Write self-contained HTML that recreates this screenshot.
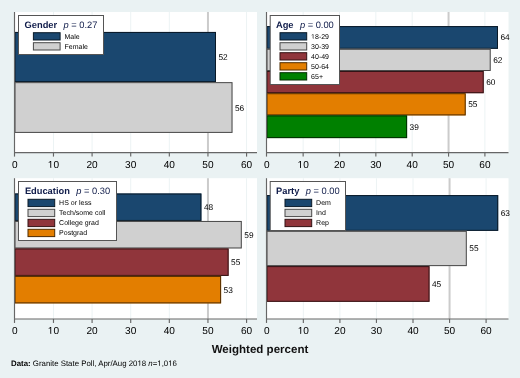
<!DOCTYPE html>
<html><head><meta charset="utf-8"><style>
html,body{margin:0;padding:0;background:#eaf2f3;overflow:hidden;}
svg{display:block;font-family:"Liberation Sans", sans-serif;will-change:transform;text-rendering:geometricPrecision;}
</style></head><body>
<svg width="520" height="378" viewBox="0 0 520 378">
<defs><clipPath id="f1"><path clip-rule="evenodd" d="M-10 -10H530V390H-10ZM48 167H50.393V168H48ZM51.285 167H53V168H51.285Z"/></clipPath><clipPath id="f2"><path clip-rule="evenodd" d="M-10 -10H530V390H-10ZM298 167H300.073V168H298ZM300.965 167H303V168H300.965Z"/></clipPath><clipPath id="f3"><path clip-rule="evenodd" d="M-10 -10H530V390H-10ZM311 38H312.861V39H311ZM313.479 38H315V39H313.479Z"/></clipPath><clipPath id="f4"><path clip-rule="evenodd" d="M-10 -10H530V390H-10ZM48 333H50.393V334H48ZM51.285 333H53V334H51.285Z"/></clipPath><clipPath id="f5"><path clip-rule="evenodd" d="M-10 -10H530V390H-10ZM298 333H300.273V334H298ZM301.165 333H303V334H301.165Z"/></clipPath><clipPath id="f6"><path clip-rule="evenodd" d="M-10 -10H530V390H-10ZM138 365H139.412V366H138ZM140.105 365H142V366H140.105ZM157 365H159.287V366H157ZM159.980 365H162V366H159.980ZM168 365H170.193V366H168ZM170.886 365H173V366H170.886Z"/></clipPath></defs>
<rect x="0" y="0" width="520" height="378" fill="#eaf2f3"/>
<rect x="14" y="12" width="243" height="140.6" fill="#fff"/>
<line x1="53.47" y1="12" x2="53.47" y2="152.6" stroke="#ecf3f4" stroke-width="1"/>
<line x1="92.09" y1="12" x2="92.09" y2="152.6" stroke="#ecf3f4" stroke-width="1"/>
<line x1="130.71" y1="12" x2="130.71" y2="152.6" stroke="#ecf3f4" stroke-width="1"/>
<line x1="169.33" y1="12" x2="169.33" y2="152.6" stroke="#ecf3f4" stroke-width="1"/>
<line x1="246.57" y1="12" x2="246.57" y2="152.6" stroke="#ecf3f4" stroke-width="1"/>
<line x1="207.95" y1="12" x2="207.95" y2="152.6" stroke="#cbcbcb" stroke-width="2"/>
<rect x="14.5" y="31.95" width="201.50" height="50.20" fill="#1a476f"/>
<rect x="15.0" y="32.45" width="200.50" height="49.20" fill="none" stroke="#091927" stroke-width="1"/>
<text x="218.50" y="60.05" font-size="8.3" fill="#000">52</text>
<rect x="14.5" y="82.15" width="218.00" height="50.75" fill="#d0d0d0"/>
<rect x="15.0" y="82.65" width="217.00" height="49.75" fill="none" stroke="#494949" stroke-width="1"/>
<text x="235.00" y="110.53" font-size="8.3" fill="#000">56</text>
<line x1="14.5" y1="12" x2="14.5" y2="152.6" stroke="#666" stroke-width="1.15"/>
<line x1="14" y1="152.6" x2="257" y2="152.6" stroke="#666" stroke-width="1.15"/>
<line x1="14.50" y1="152.6" x2="14.50" y2="156.6" stroke="#666" stroke-width="1.15"/>
<text x="14.85" y="167.90" font-size="10.1" fill="#000" text-anchor="middle">0</text>
<line x1="53.47" y1="152.6" x2="53.47" y2="156.6" stroke="#666" stroke-width="1.15"/>
<text clip-path="url(#f1)" x="53.47" y="167.90" font-size="10.1" fill="#000" text-anchor="middle">10</text>
<line x1="92.09" y1="152.6" x2="92.09" y2="156.6" stroke="#666" stroke-width="1.15"/>
<text x="92.09" y="167.90" font-size="10.1" fill="#000" text-anchor="middle">20</text>
<line x1="130.71" y1="152.6" x2="130.71" y2="156.6" stroke="#666" stroke-width="1.15"/>
<text x="130.71" y="167.90" font-size="10.1" fill="#000" text-anchor="middle">30</text>
<line x1="169.33" y1="152.6" x2="169.33" y2="156.6" stroke="#666" stroke-width="1.15"/>
<text x="169.33" y="167.90" font-size="10.1" fill="#000" text-anchor="middle">40</text>
<line x1="207.95" y1="152.6" x2="207.95" y2="156.6" stroke="#666" stroke-width="1.15"/>
<text x="207.95" y="167.90" font-size="10.1" fill="#000" text-anchor="middle">50</text>
<line x1="246.57" y1="152.6" x2="246.57" y2="156.6" stroke="#666" stroke-width="1.15"/>
<text x="246.57" y="167.90" font-size="10.1" fill="#000" text-anchor="middle">60</text>
<rect x="18.5" y="15.5" width="85" height="39" fill="#fff" stroke="#555" stroke-width="1"/>
<text x="61.00" y="27.80" font-size="9.3" fill="#101c4a" text-anchor="middle"><tspan font-weight="bold">Gender</tspan><tspan dx="6.4"><tspan font-style="italic">p</tspan> = 0.27</tspan></text>
<rect x="33.40" y="32.70" width="26.7" height="7.3" fill="#1a476f" stroke="#091927" stroke-width="1"/>
<text x="64.50" y="38.70" font-size="7" fill="#000">Male</text>
<rect x="33.40" y="42.70" width="26.7" height="7.3" fill="#d0d0d0" stroke="#494949" stroke-width="1"/>
<text x="64.50" y="48.70" font-size="7" fill="#000">Female</text>
<rect x="266" y="12" width="242.5" height="140.6" fill="#fff"/>
<line x1="303.15" y1="12" x2="303.15" y2="152.6" stroke="#ecf3f4" stroke-width="1"/>
<line x1="339.50" y1="12" x2="339.50" y2="152.6" stroke="#ecf3f4" stroke-width="1"/>
<line x1="375.85" y1="12" x2="375.85" y2="152.6" stroke="#ecf3f4" stroke-width="1"/>
<line x1="412.20" y1="12" x2="412.20" y2="152.6" stroke="#ecf3f4" stroke-width="1"/>
<line x1="484.90" y1="12" x2="484.90" y2="152.6" stroke="#ecf3f4" stroke-width="1"/>
<line x1="448.55" y1="12" x2="448.55" y2="152.6" stroke="#cbcbcb" stroke-width="2"/>
<rect x="266.5" y="26.10" width="231.50" height="22.70" fill="#1a476f"/>
<rect x="267.0" y="26.60" width="230.50" height="21.70" fill="none" stroke="#091927" stroke-width="1"/>
<text x="500.50" y="40.45" font-size="8.3" fill="#000">64</text>
<rect x="266.5" y="48.80" width="224.20" height="22.20" fill="#d0d0d0"/>
<rect x="267.0" y="49.30" width="223.20" height="21.20" fill="none" stroke="#494949" stroke-width="1"/>
<text x="493.20" y="62.90" font-size="8.3" fill="#000">62</text>
<rect x="266.5" y="71.00" width="217.20" height="22.20" fill="#90353b"/>
<rect x="267.0" y="71.50" width="216.20" height="21.20" fill="none" stroke="#321315" stroke-width="1"/>
<text x="486.20" y="85.10" font-size="8.3" fill="#000">60</text>
<rect x="266.5" y="93.20" width="199.20" height="22.20" fill="#e37e00"/>
<rect x="267.0" y="93.70" width="198.20" height="21.20" fill="none" stroke="#4f2c00" stroke-width="1"/>
<text x="468.20" y="107.30" font-size="8.3" fill="#000">55</text>
<rect x="266.5" y="115.40" width="140.60" height="22.70" fill="#008000"/>
<rect x="267.0" y="115.90" width="139.60" height="21.70" fill="none" stroke="#002d00" stroke-width="1"/>
<text x="409.60" y="129.75" font-size="8.3" fill="#000">39</text>
<line x1="266.5" y1="12" x2="266.5" y2="152.6" stroke="#666" stroke-width="1.15"/>
<line x1="266" y1="152.6" x2="508.5" y2="152.6" stroke="#666" stroke-width="1.15"/>
<line x1="266.50" y1="152.6" x2="266.50" y2="156.6" stroke="#666" stroke-width="1.15"/>
<text x="266.80" y="167.90" font-size="10.1" fill="#000" text-anchor="middle">0</text>
<line x1="303.15" y1="152.6" x2="303.15" y2="156.6" stroke="#666" stroke-width="1.15"/>
<text clip-path="url(#f2)" x="303.15" y="167.90" font-size="10.1" fill="#000" text-anchor="middle">10</text>
<line x1="339.50" y1="152.6" x2="339.50" y2="156.6" stroke="#666" stroke-width="1.15"/>
<text x="339.50" y="167.90" font-size="10.1" fill="#000" text-anchor="middle">20</text>
<line x1="375.85" y1="152.6" x2="375.85" y2="156.6" stroke="#666" stroke-width="1.15"/>
<text x="375.85" y="167.90" font-size="10.1" fill="#000" text-anchor="middle">30</text>
<line x1="412.20" y1="152.6" x2="412.20" y2="156.6" stroke="#666" stroke-width="1.15"/>
<text x="412.20" y="167.90" font-size="10.1" fill="#000" text-anchor="middle">40</text>
<line x1="448.55" y1="152.6" x2="448.55" y2="156.6" stroke="#666" stroke-width="1.15"/>
<text x="448.55" y="167.90" font-size="10.1" fill="#000" text-anchor="middle">50</text>
<line x1="484.90" y1="152.6" x2="484.90" y2="156.6" stroke="#666" stroke-width="1.15"/>
<text x="484.90" y="167.90" font-size="10.1" fill="#000" text-anchor="middle">60</text>
<rect x="270.2" y="15.5" width="69.3" height="69" fill="#fff" stroke="#555" stroke-width="1"/>
<text x="304.85" y="27.80" font-size="9.3" fill="#101c4a" text-anchor="middle"><tspan font-weight="bold">Age</tspan><tspan dx="6.4"><tspan font-style="italic">p</tspan> = 0.00</tspan></text>
<rect x="280.00" y="32.70" width="26.7" height="7.3" fill="#1a476f" stroke="#091927" stroke-width="1"/>
<text clip-path="url(#f3)" x="311.10" y="38.70" font-size="7" fill="#000">18-29</text>
<rect x="280.00" y="42.70" width="26.7" height="7.3" fill="#d0d0d0" stroke="#494949" stroke-width="1"/>
<text x="311.10" y="48.70" font-size="7" fill="#000">30-39</text>
<rect x="280.00" y="52.70" width="26.7" height="7.3" fill="#90353b" stroke="#321315" stroke-width="1"/>
<text x="311.10" y="58.70" font-size="7" fill="#000">40-49</text>
<rect x="280.00" y="62.70" width="26.7" height="7.3" fill="#e37e00" stroke="#4f2c00" stroke-width="1"/>
<text x="311.10" y="68.70" font-size="7" fill="#000">50-64</text>
<rect x="280.00" y="72.70" width="26.7" height="7.3" fill="#008000" stroke="#002d00" stroke-width="1"/>
<text x="311.10" y="78.70" font-size="7" fill="#000">65+</text>
<rect x="14" y="178.2" width="243" height="140.75" fill="#fff"/>
<line x1="53.47" y1="178.2" x2="53.47" y2="318.95" stroke="#ecf3f4" stroke-width="1"/>
<line x1="92.09" y1="178.2" x2="92.09" y2="318.95" stroke="#ecf3f4" stroke-width="1"/>
<line x1="130.71" y1="178.2" x2="130.71" y2="318.95" stroke="#ecf3f4" stroke-width="1"/>
<line x1="169.33" y1="178.2" x2="169.33" y2="318.95" stroke="#ecf3f4" stroke-width="1"/>
<line x1="246.57" y1="178.2" x2="246.57" y2="318.95" stroke="#ecf3f4" stroke-width="1"/>
<line x1="207.95" y1="178.2" x2="207.95" y2="318.95" stroke="#cbcbcb" stroke-width="2"/>
<rect x="14.5" y="193.50" width="186.90" height="27.45" fill="#1a476f"/>
<rect x="15.0" y="194.00" width="185.90" height="26.45" fill="none" stroke="#091927" stroke-width="1"/>
<text x="203.90" y="210.22" font-size="8.3" fill="#000">48</text>
<rect x="14.5" y="220.95" width="227.30" height="27.50" fill="#d0d0d0"/>
<rect x="15.0" y="221.45" width="226.30" height="26.50" fill="none" stroke="#494949" stroke-width="1"/>
<text x="244.30" y="237.70" font-size="8.3" fill="#000">59</text>
<rect x="14.5" y="248.45" width="214.10" height="27.45" fill="#90353b"/>
<rect x="15.0" y="248.95" width="213.10" height="26.45" fill="none" stroke="#321315" stroke-width="1"/>
<text x="231.10" y="265.17" font-size="8.3" fill="#000">55</text>
<rect x="14.5" y="275.90" width="206.60" height="27.50" fill="#e37e00"/>
<rect x="15.0" y="276.40" width="205.60" height="26.50" fill="none" stroke="#4f2c00" stroke-width="1"/>
<text x="223.60" y="292.65" font-size="8.3" fill="#000">53</text>
<line x1="14.5" y1="178.2" x2="14.5" y2="318.95" stroke="#666" stroke-width="1.15"/>
<line x1="14" y1="318.95" x2="257" y2="318.95" stroke="#666" stroke-width="1.15"/>
<line x1="14.50" y1="318.95" x2="14.50" y2="322.95" stroke="#666" stroke-width="1.15"/>
<text x="14.85" y="334.25" font-size="10.1" fill="#000" text-anchor="middle">0</text>
<line x1="53.47" y1="318.95" x2="53.47" y2="322.95" stroke="#666" stroke-width="1.15"/>
<text clip-path="url(#f4)" x="53.47" y="334.25" font-size="10.1" fill="#000" text-anchor="middle">10</text>
<line x1="92.09" y1="318.95" x2="92.09" y2="322.95" stroke="#666" stroke-width="1.15"/>
<text x="92.09" y="334.25" font-size="10.1" fill="#000" text-anchor="middle">20</text>
<line x1="130.71" y1="318.95" x2="130.71" y2="322.95" stroke="#666" stroke-width="1.15"/>
<text x="130.71" y="334.25" font-size="10.1" fill="#000" text-anchor="middle">30</text>
<line x1="169.33" y1="318.95" x2="169.33" y2="322.95" stroke="#666" stroke-width="1.15"/>
<text x="169.33" y="334.25" font-size="10.1" fill="#000" text-anchor="middle">40</text>
<line x1="207.95" y1="318.95" x2="207.95" y2="322.95" stroke="#666" stroke-width="1.15"/>
<text x="207.95" y="334.25" font-size="10.1" fill="#000" text-anchor="middle">50</text>
<line x1="246.57" y1="318.95" x2="246.57" y2="322.95" stroke="#666" stroke-width="1.15"/>
<text x="246.57" y="334.25" font-size="10.1" fill="#000" text-anchor="middle">60</text>
<rect x="18.5" y="181.5" width="98" height="59" fill="#fff" stroke="#555" stroke-width="1"/>
<text x="67.50" y="194.40" font-size="9.3" fill="#101c4a" text-anchor="middle"><tspan font-weight="bold">Education</tspan><tspan dx="6.4"><tspan font-style="italic">p</tspan> = 0.30</tspan></text>
<rect x="28.00" y="199.30" width="26.7" height="7.3" fill="#1a476f" stroke="#091927" stroke-width="1"/>
<text x="59.10" y="205.30" font-size="7" fill="#000">HS or less</text>
<rect x="28.00" y="209.30" width="26.7" height="7.3" fill="#d0d0d0" stroke="#494949" stroke-width="1"/>
<text x="59.10" y="215.30" font-size="7" fill="#000">Tech/some coll</text>
<rect x="28.00" y="219.30" width="26.7" height="7.3" fill="#90353b" stroke="#321315" stroke-width="1"/>
<text x="59.10" y="225.30" font-size="7" fill="#000">College grad</text>
<rect x="28.00" y="229.30" width="26.7" height="7.3" fill="#e37e00" stroke="#4f2c00" stroke-width="1"/>
<text x="59.10" y="235.30" font-size="7" fill="#000">Postgrad</text>
<rect x="266" y="178.2" width="242.5" height="140.75" fill="#fff"/>
<line x1="303.35" y1="178.2" x2="303.35" y2="318.95" stroke="#ecf3f4" stroke-width="1"/>
<line x1="339.90" y1="178.2" x2="339.90" y2="318.95" stroke="#ecf3f4" stroke-width="1"/>
<line x1="376.45" y1="178.2" x2="376.45" y2="318.95" stroke="#ecf3f4" stroke-width="1"/>
<line x1="413.00" y1="178.2" x2="413.00" y2="318.95" stroke="#ecf3f4" stroke-width="1"/>
<line x1="486.10" y1="178.2" x2="486.10" y2="318.95" stroke="#ecf3f4" stroke-width="1"/>
<line x1="449.55" y1="178.2" x2="449.55" y2="318.95" stroke="#cbcbcb" stroke-width="2"/>
<rect x="266.5" y="195.10" width="231.70" height="35.73" fill="#1a476f"/>
<rect x="267.0" y="195.60" width="230.70" height="34.73" fill="none" stroke="#091927" stroke-width="1"/>
<text x="500.70" y="215.97" font-size="8.3" fill="#000">63</text>
<rect x="266.5" y="230.83" width="200.30" height="35.27" fill="#d0d0d0"/>
<rect x="267.0" y="231.33" width="199.30" height="34.27" fill="none" stroke="#494949" stroke-width="1"/>
<text x="469.30" y="251.47" font-size="8.3" fill="#000">55</text>
<rect x="266.5" y="266.10" width="163.00" height="35.70" fill="#90353b"/>
<rect x="267.0" y="266.60" width="162.00" height="34.70" fill="none" stroke="#321315" stroke-width="1"/>
<text x="432.00" y="286.95" font-size="8.3" fill="#000">45</text>
<line x1="266.5" y1="178.2" x2="266.5" y2="318.95" stroke="#666" stroke-width="1.15"/>
<line x1="266" y1="318.95" x2="508.5" y2="318.95" stroke="#666" stroke-width="1.15"/>
<line x1="266.50" y1="318.95" x2="266.50" y2="322.95" stroke="#666" stroke-width="1.15"/>
<text x="266.80" y="334.25" font-size="10.1" fill="#000" text-anchor="middle">0</text>
<line x1="303.35" y1="318.95" x2="303.35" y2="322.95" stroke="#666" stroke-width="1.15"/>
<text clip-path="url(#f5)" x="303.35" y="334.25" font-size="10.1" fill="#000" text-anchor="middle">10</text>
<line x1="339.90" y1="318.95" x2="339.90" y2="322.95" stroke="#666" stroke-width="1.15"/>
<text x="339.90" y="334.25" font-size="10.1" fill="#000" text-anchor="middle">20</text>
<line x1="376.45" y1="318.95" x2="376.45" y2="322.95" stroke="#666" stroke-width="1.15"/>
<text x="376.45" y="334.25" font-size="10.1" fill="#000" text-anchor="middle">30</text>
<line x1="413.00" y1="318.95" x2="413.00" y2="322.95" stroke="#666" stroke-width="1.15"/>
<text x="413.00" y="334.25" font-size="10.1" fill="#000" text-anchor="middle">40</text>
<line x1="449.55" y1="318.95" x2="449.55" y2="322.95" stroke="#666" stroke-width="1.15"/>
<text x="449.55" y="334.25" font-size="10.1" fill="#000" text-anchor="middle">50</text>
<line x1="486.10" y1="318.95" x2="486.10" y2="322.95" stroke="#666" stroke-width="1.15"/>
<text x="486.10" y="334.25" font-size="10.1" fill="#000" text-anchor="middle">60</text>
<rect x="270.2" y="181.5" width="75.3" height="49" fill="#fff" stroke="#555" stroke-width="1"/>
<text x="307.85" y="194.40" font-size="9.3" fill="#101c4a" text-anchor="middle"><tspan font-weight="bold">Party</tspan><tspan dx="6.4"><tspan font-style="italic">p</tspan> = 0.00</tspan></text>
<rect x="285.00" y="199.30" width="26.7" height="7.3" fill="#1a476f" stroke="#091927" stroke-width="1"/>
<text x="316.10" y="205.30" font-size="7" fill="#000">Dem</text>
<rect x="285.00" y="209.30" width="26.7" height="7.3" fill="#d0d0d0" stroke="#494949" stroke-width="1"/>
<text x="316.10" y="215.30" font-size="7" fill="#000">Ind</text>
<rect x="285.00" y="219.30" width="26.7" height="7.3" fill="#90353b" stroke="#321315" stroke-width="1"/>
<text x="316.10" y="225.30" font-size="7" fill="#000">Rep</text>
<text x="260" y="353" font-size="11.55" font-weight="bold" fill="#111" text-anchor="middle">Weighted percent</text>
<text clip-path="url(#f6)" x="11" y="365.9" font-size="7.85" fill="#000"><tspan font-weight="bold">Data:</tspan> Granite State Poll, Apr/Aug 2018 <tspan font-style="italic">n</tspan>=1,016</text>
</svg>
</body></html>
